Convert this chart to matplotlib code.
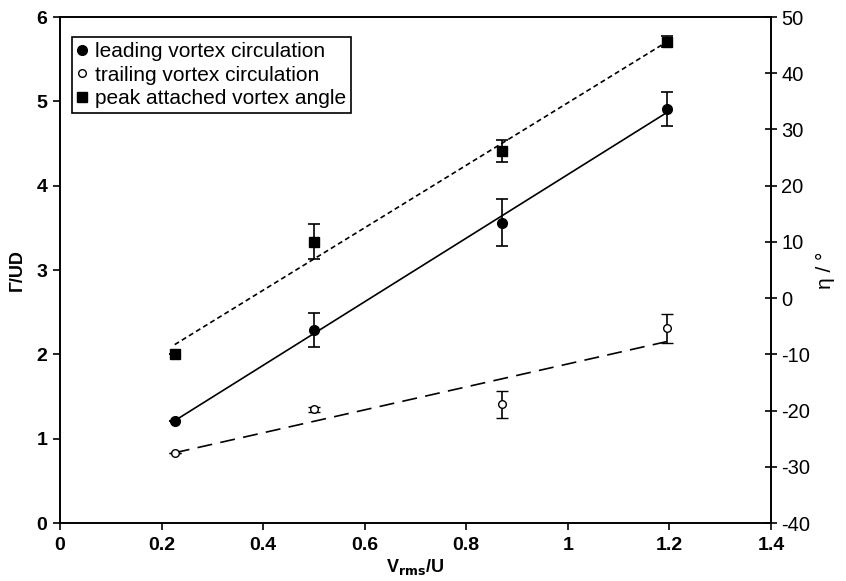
import matplotlib.pyplot as plt
import numpy as np

plt.rcParams['font.family'] = ['Liberation Sans', 'DejaVu Sans']
plt.rcParams['axes.unicode_minus'] = False

# data
v_rms = np.array([0.226, 0.5, 0.87, 1.195])
leading = np.array([1.21, 2.29, 3.56, 4.91])
leading_err = np.array([0.0, 0.20, 0.28, 0.20])
trailing = np.array([0.83, 1.35, 1.41, 2.31])
trailing_err = np.array([0.0, 0.03, 0.16, 0.17])
angle = np.array([-10.0, 10.0, 26.2, 45.6])
angle_err = np.array([0.0, 3.1, 2.0, 1.0])

labels = ['leading vortex circulation', 'trailing vortex circulation',
          'peak attached vortex angle']

fig = plt.figure(figsize=(8.46, 5.81), dpi=100)
ax = fig.add_axes([0.0709, 0.0998, 0.8404, 0.8709])
ax2 = ax.twinx()

# linear trend lines over the data range
xs = np.array([v_rms.min(), v_rms.max()])
p_lead = np.polyfit(v_rms, leading, 1)
p_trail = np.polyfit(v_rms, trailing, 1)
p_ang = np.polyfit(v_rms, angle, 1)
ax.plot(xs, np.polyval(p_lead, xs), color='black', lw=1.2, ls='-')
ax.plot(xs, np.polyval(p_trail, xs), color='black', lw=1.2, ls=(0, (9, 5)))
ax2.plot(xs, np.polyval(p_ang, xs), color='black', lw=1.2, ls=(0, (3, 2)))

ekw = dict(ecolor='black', elinewidth=1.2, capsize=4, capthick=1.2, ls='none')
h1 = ax.errorbar(v_rms, leading, yerr=leading_err, fmt='o', ms=7,
                 mfc='black', mec='black', **ekw)
h2 = ax.errorbar(v_rms, trailing, yerr=trailing_err, fmt='o', ms=5.5,
                 mfc='white', mec='black', mew=1, **ekw)
h3 = ax2.errorbar(v_rms, angle, yerr=angle_err, fmt='s', ms=6.5,
                  mfc='black', mec='black', **ekw)

ax.set_xlim(0, 1.4)
ax.set_ylim(0, 6)
ax2.set_ylim(-40, 50)
ax.set_xticks(np.arange(0, 1.41, 0.2))
ax.set_xticklabels(['0', '0.2', '0.4', '0.6', '0.8', '1', '1.2', '1.4'])
ax.set_yticks(range(0, 7))
ax2.set_yticks(range(-40, 51, 10))

for a in (ax, ax2):
    for s in a.spines.values():
        s.set_linewidth(1.2)
ax.tick_params(axis='x', direction='out', length=5, width=1.2, labelsize=14, pad=5)
ax.tick_params(axis='y', direction='out', length=5, width=1.2, labelsize=14, pad=4)
ax2.tick_params(axis='y', direction='inout', length=9, width=1.2, labelsize=14.5, pad=3)
for t in ax.get_xticklabels() + ax.get_yticklabels():
    t.set_fontweight('bold')

ax.set_xlabel('V$_{\\mathbf{rms}}$/U', fontsize=13, fontweight='bold', labelpad=2)
ax.set_ylabel('Γ/UD', fontsize=13, fontweight='bold', labelpad=8)
ax2.set_ylabel('η / °', fontsize=15, labelpad=4)

leg = ax.legend([h1[0], h2[0], h3[0]], labels, loc='upper left',
                bbox_to_anchor=(0.017, 0.96), fontsize=15, frameon=True,
                fancybox=False, edgecolor='black', framealpha=1,
                handlelength=0.5, handletextpad=0.35, borderpad=0.25,
                labelspacing=0.2, borderaxespad=0)
leg.get_frame().set_linewidth(1.2)

fig.savefig('out.png', dpi=100, facecolor='white')
